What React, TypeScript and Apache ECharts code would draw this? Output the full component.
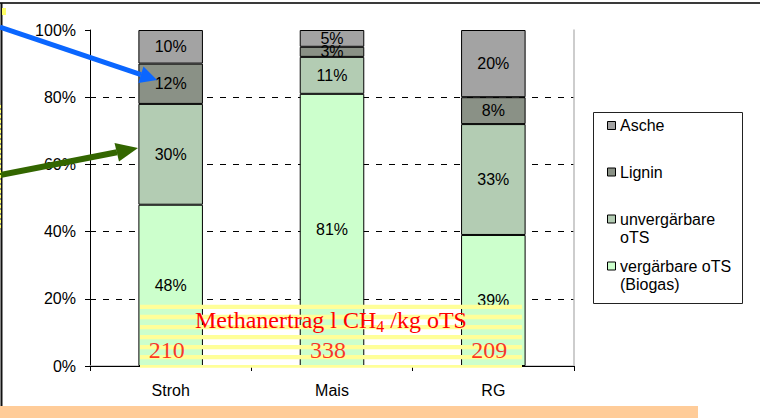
import React, { useEffect, useRef } from "react";
import * as echarts from "echarts";

const categories = ["Stroh", "Mais", "RG"];
const seriesNames = ["vergärbare oTS (Biogas)", "unvergärbare oTS", "Lignin", "Asche"];
const legendLabels = ["Asche", "Lignin", "unvergärbare\noTS", "vergärbare oTS\n(Biogas)"];
const vergaerbar = [48, 81, 39];
const unvergaerbar = [30, 11, 33];
const lignin = [12, 3, 8];
const asche = [10, 5, 20];
const methaneYield = [210, 338, 209];
const yTicks = [0, 20, 40, 60, 80, 100];

const colors = ["#CCFFCC", "#B3CCB3", "#8A9186", "#A3A3A3"];
const SANS = "'Liberation Sans', Arial, sans-serif";
const SERIF = "'Liberation Serif', 'Times New Roman', serif";

export default function App() {
  const ref = useRef<HTMLDivElement>(null);
  useEffect(() => {
    if (!ref.current) return;
    const chart = echarts.init(ref.current, undefined, { renderer: "svg" });
    const values = [vergaerbar, unvergaerbar, lignin, asche];
    const barSeries = values.map((vals, k) => ({
      name: seriesNames[k],
      type: "bar",
      stack: "total",
      barWidth: "40%",
      data: vals,
      itemStyle: { color: colors[k], borderColor: "#000", borderWidth: 1 },
      label: {
        show: true,
        position: "inside",
        formatter: "{c}%",
        color: "#000",
        fontSize: 16,
        fontFamily: SANS,
      },
      z: 5,
    }));

    const graphics: any[] = [];
    // page frame
    graphics.push({ type: "line", z: 100, shape: { x1: 0, y1: 3, x2: 760, y2: 3 }, style: { stroke: "#3a3a3a", lineWidth: 2 } });
    graphics.push({ type: "line", z: 100, shape: { x1: 1.5, y1: 3, x2: 1.5, y2: 406 }, style: { stroke: "#111", lineWidth: 2 } });
    graphics.push({ type: "line", z: 101, shape: { x1: 0.5, y1: 105, x2: 0.5, y2: 230 }, style: { stroke: "#FFFF66", lineWidth: 1, lineDash: [3, 2] } });
    graphics.push({ type: "rect", z: 101, shape: { x: 2, y: 8, width: 4, height: 7 }, style: { fill: "#FFFF66" } });
    graphics.push({ type: "rect", z: 100, shape: { x: 0, y: 406, width: 698, height: 12 }, style: { fill: "#FFCC99" } });

    // striped box
    for (let i = 0; i < 7; i++) {
      const y = 304.8 + i * 10.05;
      const h = i === 6 ? 2.7 : 4.3;
      graphics.push({ type: "rect", z: 50, shape: { x: 140, y, width: 382, height: h }, style: { fill: "#FFFF99" } });
    }
    graphics.push({
      type: "text",
      z: 60,
      x: 331,
      y: 320,
      style: {
        text: "{a|Methanertrag l CH}{s|4}{a| /kg oTS}",
        align: "center",
        verticalAlign: "middle",
        rich: {
          a: { fontSize: 24, fontFamily: SERIF, fill: "#FF0000", lineHeight: 28, verticalAlign: "middle" },
          s: { fontSize: 16, fontFamily: SERIF, fill: "#FF0000", lineHeight: 28, verticalAlign: "bottom" },
        },
      },
    });

    // arrows
    graphics.push({ type: "line", z: 100, shape: { x1: 0, y1: 27, x2: 141, y2: 74.7 }, style: { stroke: "#0A66FF", lineWidth: 5 } });
    graphics.push({ type: "polygon", z: 100, shape: { points: [[157, 80], [138.3, 83], [143.5, 66.5]] }, style: { fill: "#0A66FF" } });
    graphics.push({ type: "line", z: 100, shape: { x1: 0, y1: 175, x2: 117, y2: 152.2 }, style: { stroke: "#336600", lineWidth: 6 } });
    graphics.push({ type: "polygon", z: 100, shape: { points: [[138, 148], [119, 161.5], [114.5, 143]] }, style: { fill: "#336600" } });

    // legend
    graphics.push({ type: "rect", z: 40, shape: { x: 593.5, y: 112.5, width: 149, height: 191 }, style: { fill: "#fff", stroke: "#222", lineWidth: 1 } });
    const legendY = [125.5, 172, 219, 266];
    const legendColors = [colors[3], colors[2], colors[1], colors[0]];
    legendLabels.forEach((lab, i) => {
      graphics.push({ type: "rect", z: 41, shape: { x: 607.5, y: legendY[i] - 4, width: 8, height: 8 }, style: { fill: legendColors[i], stroke: "#000", lineWidth: 1 } });
      graphics.push({
        type: "text",
        z: 41,
        x: 620,
        y: legendY[i] - 9,
        style: { text: lab, fontSize: 16, fontFamily: SANS, fill: "#000", lineHeight: 18, verticalAlign: "top", align: "left" },
      });
    });

    chart.setOption({
      animation: false,
      backgroundColor: "#fff",
      grid: { left: 90, right: 186, top: 30, bottom: 52, containLabel: false },
      xAxis: [
        {
          type: "category",
          data: categories,
          position: "bottom",
          axisLine: { show: true, lineStyle: { color: "#000", width: 1 } },
          axisTick: { show: true, length: 5, lineStyle: { color: "#000" } },
          axisLabel: { color: "#000", fontSize: 16, fontFamily: SANS, margin: 16 },
          z: 6,
        },
        {
          type: "category",
          data: categories,
          position: "top",
          axisLine: { show: true, lineStyle: { color: "#BDBDBD", width: 1.5 } },
          axisTick: { show: false },
          axisLabel: { show: false },
        },
      ],
      yAxis: [
        {
          type: "value",
          min: 0,
          max: 100,
          interval: 20,
          axisLine: { show: true, lineStyle: { color: "#000", width: 1 } },
          axisTick: { show: true, length: 5, lineStyle: { color: "#000" } },
          axisLabel: {
            color: "#000",
            fontSize: 16,
            fontFamily: SANS,
            margin: 14,
            formatter: (v: number) => (yTicks.includes(v) ? v + "%" : ""),
          },
          splitLine: { show: true, lineStyle: { color: ["#000", "#000", "#000", "#000", "#000", "rgba(0,0,0,0)"], type: [6, 7], width: 1 } },
          z: 0,
        },
        {
          type: "value",
          min: 0,
          max: 100,
          interval: 20,
          position: "right",
          axisLine: { show: true, lineStyle: { color: "#BDBDBD", width: 1.5 } },
          axisTick: { show: false },
          axisLabel: { show: false },
          splitLine: { show: false },
        },
      ],
      series: [
        ...barSeries,
        {
          name: "Methanertrag",
          type: "scatter",
          symbolSize: 0,
          xAxisIndex: 0,
          yAxisIndex: 0,
          data: categories.map((c, i) => [c, 4.9, methaneYield[i]]),
          label: {
            show: true,
            position: "inside",
            offset: [-4, 0],
            formatter: (p: any) => String(p.value[2]),
            color: "#FF0000",
            fontSize: 24,
            fontFamily: SERIF,
          },
          z: 120,
          silent: true,
        },
      ],
      graphic: graphics,
    });
    return () => chart.dispose();
  }, []);
  return (
    <div
      ref={ref}
      style={{ position: "fixed", left: 0, top: 0, width: 760, height: 418, background: "#fff" }}
    />
  );
}
